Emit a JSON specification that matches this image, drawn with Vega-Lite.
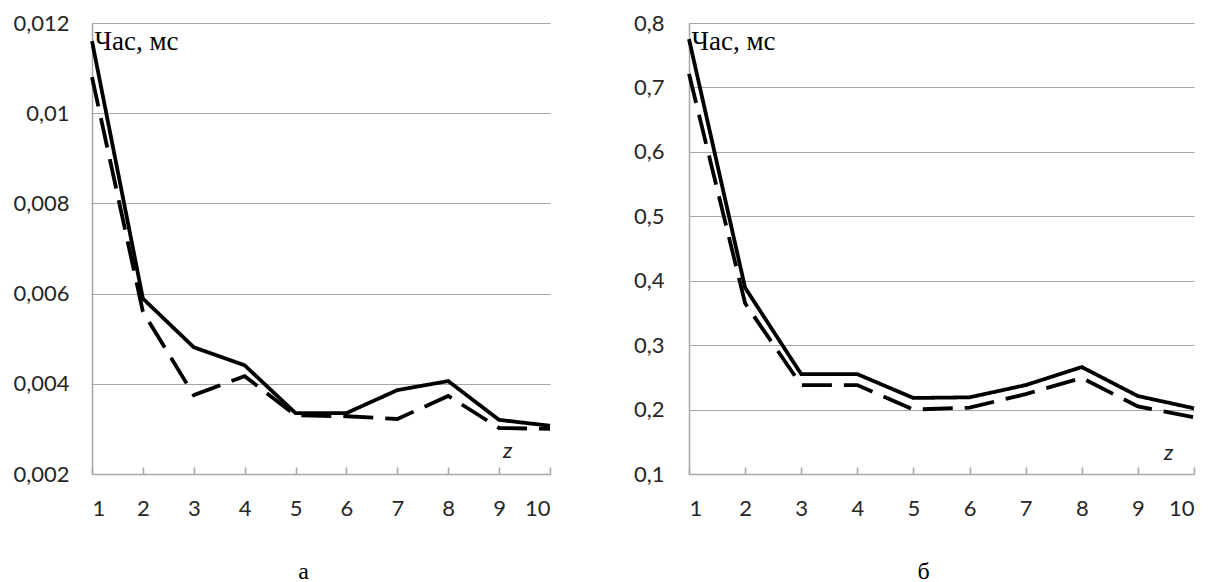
{
  "$schema": "https://vega.github.io/schema/vega-lite/v6.json",
  "autosize": {"type": "pad"},
  "padding": {"left": 12, "top": 12, "right": 0, "bottom": 0},
  "background": "white",
  "bounds": "flush",
  "spacing": 139,
  "config": {
    "locale": {"number": {"decimal": ",", "thousands": " ", "grouping": [3], "currency": ["", ""]}},
    "view": {"stroke": null},
    "axis": {
      "labelFont": "Lato",
      "labelFontSize": 22,
      "labelColor": "#262626",
      "gridColor": "#a6a6a6",
      "domainColor": "#a6a6a6",
      "tickColor": "#a6a6a6",
      "gridWidth": 1.2,
      "domainWidth": 1.5,
      "tickWidth": 1.5
    }
  },
  "datasets": {
    "a": [
      {"z": 1, "series": "solid", "value": 0.0116},
      {"z": 2, "series": "solid", "value": 0.00589},
      {"z": 3, "series": "solid", "value": 0.00481},
      {"z": 4, "series": "solid", "value": 0.00441},
      {"z": 5, "series": "solid", "value": 0.00335},
      {"z": 6, "series": "solid", "value": 0.00335},
      {"z": 7, "series": "solid", "value": 0.00386},
      {"z": 8, "series": "solid", "value": 0.00406},
      {"z": 9, "series": "solid", "value": 0.0032},
      {"z": 10, "series": "solid", "value": 0.00307},
      {"z": 1, "series": "dashed", "value": 0.0108},
      {"z": 2, "series": "dashed", "value": 0.0056},
      {"z": 3, "series": "dashed", "value": 0.00375},
      {"z": 4, "series": "dashed", "value": 0.00417},
      {"z": 5, "series": "dashed", "value": 0.0033},
      {"z": 6, "series": "dashed", "value": 0.00328},
      {"z": 7, "series": "dashed", "value": 0.00322},
      {"z": 8, "series": "dashed", "value": 0.00373},
      {"z": 9, "series": "dashed", "value": 0.00302},
      {"z": 10, "series": "dashed", "value": 0.003}
    ],
    "b": [
      {"z": 1, "series": "solid", "value": 0.775},
      {"z": 2, "series": "solid", "value": 0.389},
      {"z": 3, "series": "solid", "value": 0.255},
      {"z": 4, "series": "solid", "value": 0.255},
      {"z": 5, "series": "solid", "value": 0.218},
      {"z": 6, "series": "solid", "value": 0.219},
      {"z": 7, "series": "solid", "value": 0.238},
      {"z": 8, "series": "solid", "value": 0.266},
      {"z": 9, "series": "solid", "value": 0.221},
      {"z": 10, "series": "solid", "value": 0.202},
      {"z": 1, "series": "dashed", "value": 0.721},
      {"z": 2, "series": "dashed", "value": 0.365},
      {"z": 3, "series": "dashed", "value": 0.238},
      {"z": 4, "series": "dashed", "value": 0.238},
      {"z": 5, "series": "dashed", "value": 0.2},
      {"z": 6, "series": "dashed", "value": 0.203},
      {"z": 7, "series": "dashed", "value": 0.224},
      {"z": 8, "series": "dashed", "value": 0.249},
      {"z": 9, "series": "dashed", "value": 0.205},
      {"z": 10, "series": "dashed", "value": 0.188}
    ]
  },
  "hconcat": [
    {
      "width": 458,
      "height": 451,
      "layer": [
        {
          "data": {"name": "a"},
          "mark": {"type": "line", "strokeWidth": 3.8, "strokeCap": "butt", "strokeJoin": "miter"},
          "encoding": {
            "x": {
              "field": "z", "type": "quantitative",
              "scale": {"domain": [1, 10], "nice": false, "zero": false},
              "axis": {
                "values": [1, 2, 3, 4, 5, 6, 7, 8, 9, 10], "format": "d", "labelOverlap": false,
                "grid": false, "ticks": true, "tickSize": -7, "labelPadding": 31,
                "title": "а", "titleFont": "Liberation Serif", "titleFontSize": 24, "titleFontWeight": "normal",
                "titleColor": "black", "titleX": 211, "titleY": 104, "titleBaseline": "alphabetic", "titleAlign": "center"
              }
            },
            "y": {
              "field": "value", "type": "quantitative",
              "scale": {"domain": [0.002, 0.012], "nice": false, "zero": false},
              "axis": {
                "values": [0.002, 0.004, 0.006, 0.008, 0.01, 0.012],
                "format": ".3~f", "ticks": false, "labelPadding": 23,
                "title": "Час, мс", "titleAngle": 0, "titleAlign": "left", "titleBaseline": "alphabetic",
                "titleX": 2, "titleY": 26, "titleFont": "Liberation Serif", "titleFontSize": 27,
                "titleFontWeight": "normal", "titleColor": "black"
              }
            },
            "color": {"field": "series", "type": "nominal", "scale": {"domain": ["solid", "dashed"], "range": ["black", "black"]}, "legend": null},
            "strokeDash": {"field": "series", "type": "nominal", "scale": {"domain": ["solid", "dashed"], "range": [[1, 0], [30, 12]]}, "legend": null}
          }
        },
        {
          "data": {"values": [{}]},
          "mark": {"type": "text", "text": "z", "font": "Lato", "fontStyle": "italic", "fontSize": 22, "color": "#222"},
          "encoding": {
            "x": {"datum": 9.17, "type": "quantitative"},
            "y": {"datum": 0.0025, "type": "quantitative"}
          }
        }
      ]
    },
    {
      "width": 505,
      "height": 451,
      "layer": [
        {
          "data": {"name": "b"},
          "mark": {"type": "line", "strokeWidth": 3.8, "strokeCap": "butt", "strokeJoin": "miter"},
          "encoding": {
            "x": {
              "field": "z", "type": "quantitative",
              "scale": {"domain": [1, 10], "nice": false, "zero": false},
              "axis": {
                "values": [1, 2, 3, 4, 5, 6, 7, 8, 9, 10], "format": "d", "labelOverlap": false,
                "grid": false, "ticks": true, "tickSize": -7, "labelPadding": 31,
                "title": "б", "titleFont": "Liberation Serif", "titleFontSize": 24, "titleFontWeight": "normal",
                "titleColor": "black", "titleX": 234, "titleY": 104, "titleBaseline": "alphabetic", "titleAlign": "center"
              }
            },
            "y": {
              "field": "value", "type": "quantitative",
              "scale": {"domain": [0.1, 0.8], "nice": false, "zero": false},
              "axis": {
                "values": [0.1, 0.2, 0.3, 0.4, 0.5, 0.6, 0.7, 0.8],
                "format": ".1f", "ticks": false, "labelPadding": 25,
                "title": "Час, мс", "titleAngle": 0, "titleAlign": "left", "titleBaseline": "alphabetic",
                "titleX": 2, "titleY": 26, "titleFont": "Liberation Serif", "titleFontSize": 27,
                "titleFontWeight": "normal", "titleColor": "black"
              }
            },
            "color": {"field": "series", "type": "nominal", "scale": {"domain": ["solid", "dashed"], "range": ["black", "black"]}, "legend": null},
            "strokeDash": {"field": "series", "type": "nominal", "scale": {"domain": ["solid", "dashed"], "range": [[1, 0], [30, 12]]}, "legend": null}
          }
        },
        {
          "data": {"values": [{}]},
          "mark": {"type": "text", "text": "z", "font": "Lato", "fontStyle": "italic", "fontSize": 22, "color": "#222"},
          "encoding": {
            "x": {"datum": 9.55, "type": "quantitative"},
            "y": {"datum": 0.133, "type": "quantitative"}
          }
        }
      ]
    }
  ],
  "resolve": {"scale": {"color": "independent", "strokeDash": "independent"}}
}
